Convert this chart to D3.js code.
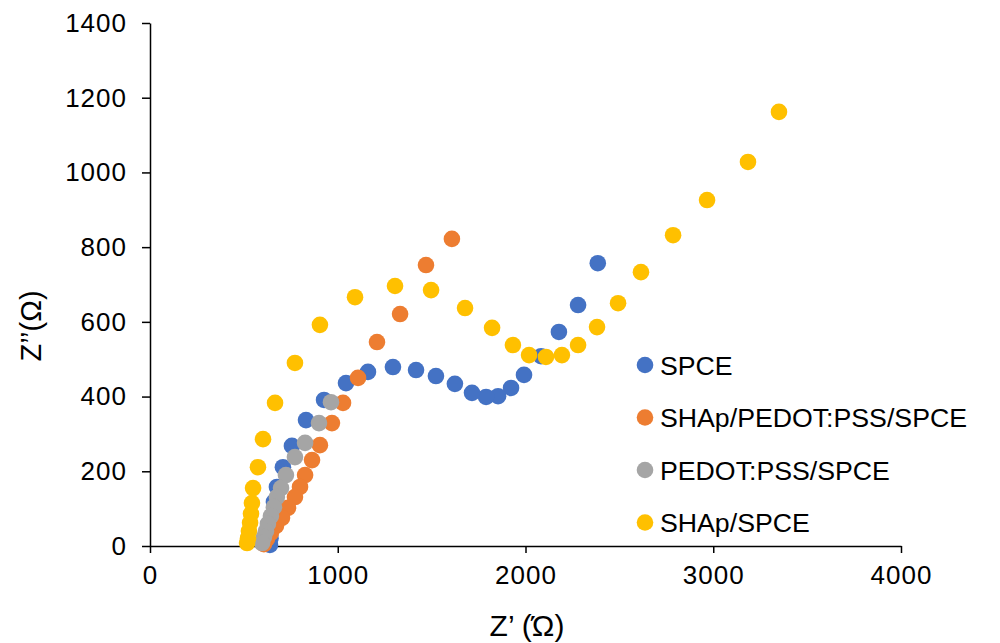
<!DOCTYPE html>
<meta charset="utf-8">
<style>
  body { margin: 0; background: #fff; }
  svg text { font-family: "Liberation Sans", Arial, sans-serif; fill: #000; }
  .axis path, .axis line { stroke: #000; stroke-width: 1.5; }
  .axis text { font-size: 26px; letter-spacing: 1px; }
</style>
<body></body>
<script src="https://d3js.org/d3.v7.min.js"></script>
<script>

// Nyquist data, [Z', Z''] in ohm
var spce = [[2385,757],[2280,645],[2178,573],[2083,508],[1992,458],[1923,423],[1854,401],
  [1790,399],[1715,410],[1624,434],[1523,455],[1417,471],[1294,479],[1161,466],[1044,436],
  [927,391],[831,337],[756,268],[708,211],[676,158],[660,118],[650,80],[644,48],[642,21],[639,3]];
var shapPedot = [[1608,822],[1470,752],[1332,621],[1209,546],[1108,450],[1028,383],[969,329],
  [905,270],[863,230],[826,190],[799,158],[772,131],[735,102],[703,75],[671,54],[644,35],
  [623,19],[607,5]];
var pedot = [[964,385],[900,329],[826,276],[772,238],[724,190],[698,155],[676,131],[660,104],
  [644,80],[628,59],[618,40],[607,24],[597,8]];
var shap = [[3350,1162],[3185,1028],[2967,926],[2786,832],[2615,733],[2493,650],[2381,586],
  [2280,538],[2194,511],[2109,506],[2019,511],[1933,538],[1822,584],[1678,637],[1497,685],
  [1305,696],[1092,666],[905,592],[772,490],[666,383],[602,286],[575,211],[549,155],[543,115],
  [538,86],[533,62],[527,40],[522,21],[517,8]];

var seriesNames = ["SPCE", "SHAp/PEDOT:PSS/SPCE", "PEDOT:PSS/SPCE", "SHAp/SPCE"];
var seriesData = [spce, shapPedot, pedot, shap];
var colors = ["#4472C4", "#ED7D31", "#A5A5A5", "#FFC000"];

var xTicks = [0, 1000, 2000, 3000, 4000];
var yTicks = [0, 200, 400, 600, 800, 1000, 1200, 1400];

var width = 1000, height = 643;

var x = d3.scaleLinear().domain([0, 4000]).range([150, 901]);
var y = d3.scaleLinear().domain([0, 1400]).range([546, 23]);

var svg = d3.select("body").append("svg")
    .attr("width", width)
    .attr("height", height);

// axes
svg.append("g")
    .attr("class", "axis")
    .attr("transform", "translate(0,546)")
    .call(d3.axisBottom(x).tickValues(xTicks).tickFormat(d3.format("d")).tickSize(7).tickSizeOuter(0).tickPadding(13));

svg.append("g")
    .attr("class", "axis")
    .attr("transform", "translate(150,0)")
    .call(d3.axisLeft(y).tickValues(yTicks).tickFormat(d3.format("d")).tickSize(8).tickSizeOuter(0).tickPadding(15));

// points, drawn in series order so later series sit on top
seriesData.forEach(function(data, i) {
  svg.append("g").selectAll("circle")
    .data(data)
    .enter().append("circle")
      .attr("cx", function(d) { return x(d[0]); })
      .attr("cy", function(d) { return y(d[1]); })
      .attr("r", 8.3)
      .attr("fill", colors[i]);
});

// axis titles
svg.append("text")
    .attr("x", 527)
    .attr("y", 636)
    .attr("text-anchor", "middle")
    .style("font-size", "30px")
    .text("Z\u2019 (\u038F)");

svg.append("text")
    .attr("transform", "translate(41,326) rotate(-90)")
    .attr("text-anchor", "middle")
    .style("font-size", "29px")
    .text("Z\u2019\u2019(\u03A9)");

// legend
var legend = svg.append("g").selectAll("g")
    .data(seriesNames)
    .enter().append("g")
    .attr("transform", function(d, i) { return "translate(645," + (365 + i * 52.5) + ")"; });

legend.append("circle")
    .attr("r", 8.3)
    .attr("fill", function(d, i) { return colors[i]; });

legend.append("text")
    .attr("x", 15)
    .attr("y", 9.5)
    .style("font-size", "26.7px")
    .text(function(d) { return d; });

</script>
